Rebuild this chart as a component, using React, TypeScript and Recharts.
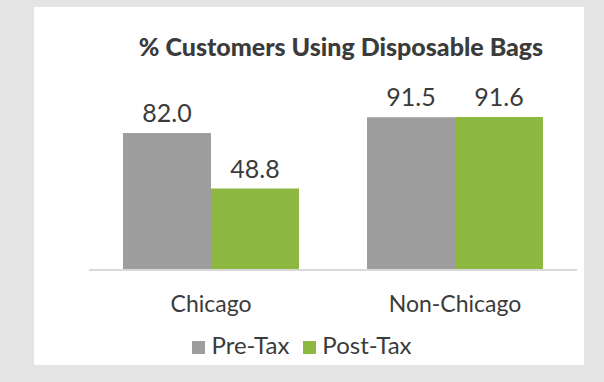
import { Bar, BarChart, LabelList, Legend, XAxis, YAxis } from "recharts";

const categories = ["Chicago", "Non-Chicago"];
const preTax = [82.0, 91.5];
const postTax = [48.8, 91.6];

const data = categories.map((name, i) => ({ name, preTax: preTax[i], postTax: postTax[i] }));

const font = "Lato, 'Noto Sans', sans-serif";
const textColor = "#3b3b3b";
const seriesOrder = ["preTax", "postTax"];

const CategoryTick = ({ x, y, payload }: any) => (
  <text x={x} y={y + 31} textAnchor="middle" dominantBaseline="central" fontSize={23} fill={textColor} fontFamily={font}>
    {payload.value}
  </text>
);

const valueLabel = { fontSize: 25, fill: textColor, fontFamily: font };

export default function App() {
  return (
    <div style={{ position: "absolute", left: 0, top: 0, width: 604, height: 382, background: "#e4e4e4" }}>
      <div style={{ position: "absolute", left: 34, top: 7, width: 550, height: 358, background: "#fff" }}>
        <div
          style={{
            position: "absolute",
            left: 0,
            top: 24,
            width: 614,
            textAlign: "center",
            fontFamily: font,
            fontWeight: 900,
            fontSize: 25,
            color: textColor,
            lineHeight: "30px",
          }}
        >
          % Customers Using Disposable Bags
        </div>
        <BarChart
          width={550}
          height={358}
          data={data}
          margin={{ top: 96, right: 7, bottom: 7, left: 55 }}
          barCategoryGap={34}
          barGap={0}
        >
          <XAxis
            dataKey="name"
            height={62}
            tickLine={false}
            tickSize={0}
            tick={<CategoryTick />}
            axisLine={{ stroke: "#d9d9d9", strokeWidth: 2 }}
          />
          <YAxis hide domain={[0, 100]} />
          <Legend
            verticalAlign="bottom"
            iconType="square"
            iconSize={13}
            itemSorter={(item: any) => seriesOrder.indexOf(item.dataKey)}
            wrapperStyle={{ left: 0, width: 550, height: 26, fontFamily: font, fontSize: 24, lineHeight: "26px" }}
            formatter={(v) => <span style={{ color: textColor, marginLeft: 2, marginRight: 4 }}>{v}</span>}
          />
          <Bar dataKey="preTax" name="Pre-Tax" fill="#9e9e9e" isAnimationActive={false}>
            <LabelList dataKey="preTax" position="top" offset={11} formatter={(v: any) => Number(v).toFixed(1)} style={valueLabel} />
          </Bar>
          <Bar dataKey="postTax" name="Post-Tax" fill="#8db943" isAnimationActive={false}>
            <LabelList dataKey="postTax" position="top" offset={11} formatter={(v: any) => Number(v).toFixed(1)} style={valueLabel} />
          </Bar>
        </BarChart>
      </div>
    </div>
  );
}
